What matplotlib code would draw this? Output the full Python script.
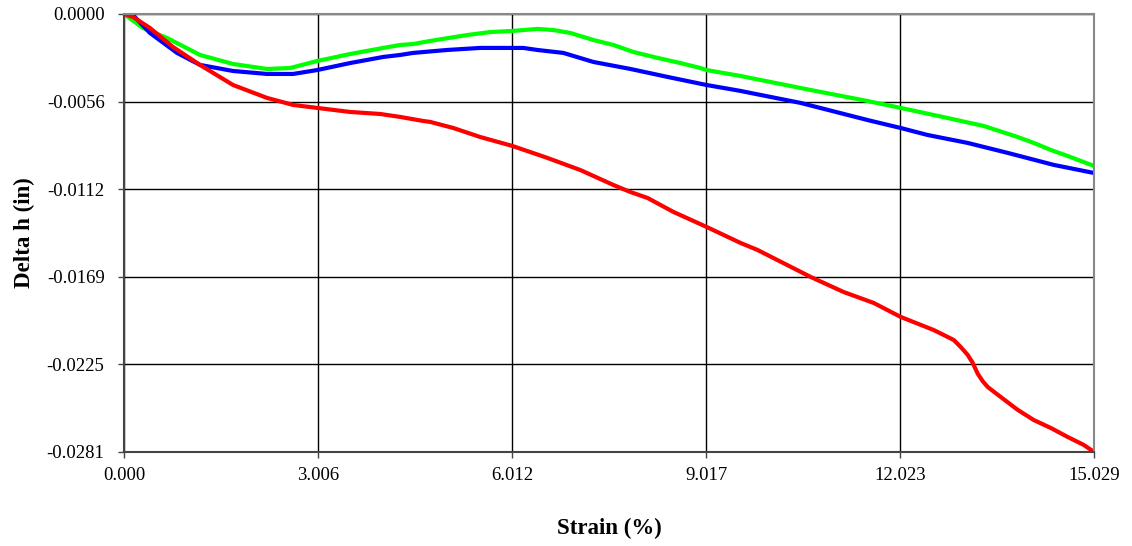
import matplotlib
matplotlib.use('Agg')
import matplotlib.pyplot as plt

# strain (%) vs delta h (in)
green_x = [0, 0.295, 0.667, 1.178, 1.690, 2.217, 2.574, 2.993, 3.504, 4.016, 4.280, 4.481,
           4.745, 5.319, 5.675, 6.016, 6.404, 6.652, 6.916, 7.272, 7.583, 7.893, 8.265,
           8.621, 8.932, 9.025, 9.552, 9.707, 10.637, 11.521, 12.033, 12.762, 13.320,
           13.847, 14.095, 14.359, 14.622, 15.029]
green_y = [0, -0.00090, -0.00154, -0.00263, -0.00321, -0.00353, -0.00347, -0.00302,
           -0.00257, -0.00218, -0.00199, -0.00193, -0.00173, -0.00135, -0.00116, -0.00109,
           -0.00096, -0.00103, -0.00122, -0.00167, -0.00199, -0.00244, -0.00282, -0.00315,
           -0.00347, -0.00360, -0.00398, -0.00411, -0.00488, -0.00559, -0.00603, -0.00668,
           -0.00719, -0.00790, -0.00828, -0.00873, -0.00912, -0.00976]

blue_x = [0, 0.124, 0.403, 0.822, 1.178, 1.690, 2.217, 2.621, 2.993, 3.504, 4.016, 4.280,
          4.481, 5.009, 5.520, 6.187, 6.404, 6.807, 7.272, 7.846, 8.420, 9.025, 9.552,
          9.707, 10.482, 11.521, 12.033, 12.451, 13.072, 13.692, 14.405, 15.029]
blue_y = [0, 0, -0.00122, -0.00250, -0.00327, -0.00366, -0.00385, -0.00385, -0.00360,
          -0.00315, -0.00276, -0.00263, -0.00250, -0.00231, -0.00218, -0.00218, -0.00231,
          -0.00250, -0.00308, -0.00353, -0.00404, -0.00456, -0.00494, -0.00507, -0.00571,
          -0.00681, -0.00732, -0.00777, -0.00828, -0.00892, -0.00969, -0.01021]

red_x = [0, 0.140, 0.403, 0.760, 1.178, 1.690, 2.217, 2.621, 2.993, 3.504, 3.970, 4.280,
         4.636, 4.745, 5.102, 5.520, 6.016, 6.559, 7.071, 7.583, 7.846, 8.110, 8.513,
         9.025, 9.552, 9.815, 10.637, 11.149, 11.614, 12.033, 12.544, 12.700, 12.855,
         12.963, 13.072, 13.149, 13.227, 13.304, 13.382, 13.583, 13.847, 14.095, 14.359,
         14.622, 14.870, 15.029]
red_y = [0, -0.00019, -0.00090, -0.00212, -0.00327, -0.00456, -0.00539, -0.00584,
         -0.00603, -0.00629, -0.00642, -0.00661, -0.00687, -0.00693, -0.00732, -0.00790,
         -0.00847, -0.00924, -0.01002, -0.01098, -0.01143, -0.01181, -0.01271, -0.01367,
         -0.01470, -0.01515, -0.01688, -0.01785, -0.01855, -0.01945, -0.02029, -0.02061,
         -0.02093, -0.02138, -0.02189, -0.02240, -0.02310, -0.02358, -0.02395, -0.02459,
         -0.02542, -0.02607, -0.02658, -0.02716, -0.02767, -0.02812]

x_max = 15.029
y_min = -0.02812
x_ticks = [0.0, 3.006, 6.012, 9.017, 12.023, 15.029]
x_labels = ['0.000', '3.006', '6.012', '9.017', '12.023', '15.029']
y_ticks = [0.0, -0.005624, -0.011248, -0.016872, -0.022496, -0.02812]
y_labels = ['0.0000', '-0.0056', '-0.0112', '-0.0169', '-0.0225', '-0.0281']

plt.rcParams['font.family'] = ['Liberation Serif', 'DejaVu Serif']

fig = plt.figure(figsize=(11.32, 5.46), dpi=100)
ax = fig.add_axes([0.1095, 0.1722, 0.857, 0.8022])

for xs, ys, c in [(green_x, green_y, '#00ff00'),
                  (blue_x, blue_y, '#0000ff'),
                  (red_x, red_y, '#ff0000')]:
    ax.plot(xs, ys, color=c, linewidth=3, solid_joinstyle='round', solid_capstyle='round')

ax.set_xlim(0, x_max)
ax.set_ylim(y_min, 0)
ax.set_xticks(x_ticks)
ax.set_xticklabels(x_labels)
ax.set_yticks(y_ticks)
ax.set_yticklabels(y_labels)
ax.tick_params(axis='both', labelsize=13.5, direction='out', length=4, width=1,
               color='#444444')
ax.tick_params(axis='x', pad=7)
ax.tick_params(axis='y', pad=10)

ax.grid(True, color='black', linewidth=1)
ax.set_axisbelow(True)
for side in ['left', 'bottom']:
    ax.spines[side].set_color('#444444')
    ax.spines[side].set_linewidth(1.5)
for side in ['top', 'right']:
    ax.spines[side].set_color('#888888')
    ax.spines[side].set_linewidth(1.5)

ax.set_xlabel('Strain (%)', fontsize=16.5, fontweight='bold')
ax.set_ylabel('Delta h (in)', fontsize=16.5, fontweight='bold')
ax.xaxis.set_label_coords(0.5, -0.15)
ax.yaxis.set_label_coords(-0.092, 0.5)

fig.savefig('out.png', dpi=100)
